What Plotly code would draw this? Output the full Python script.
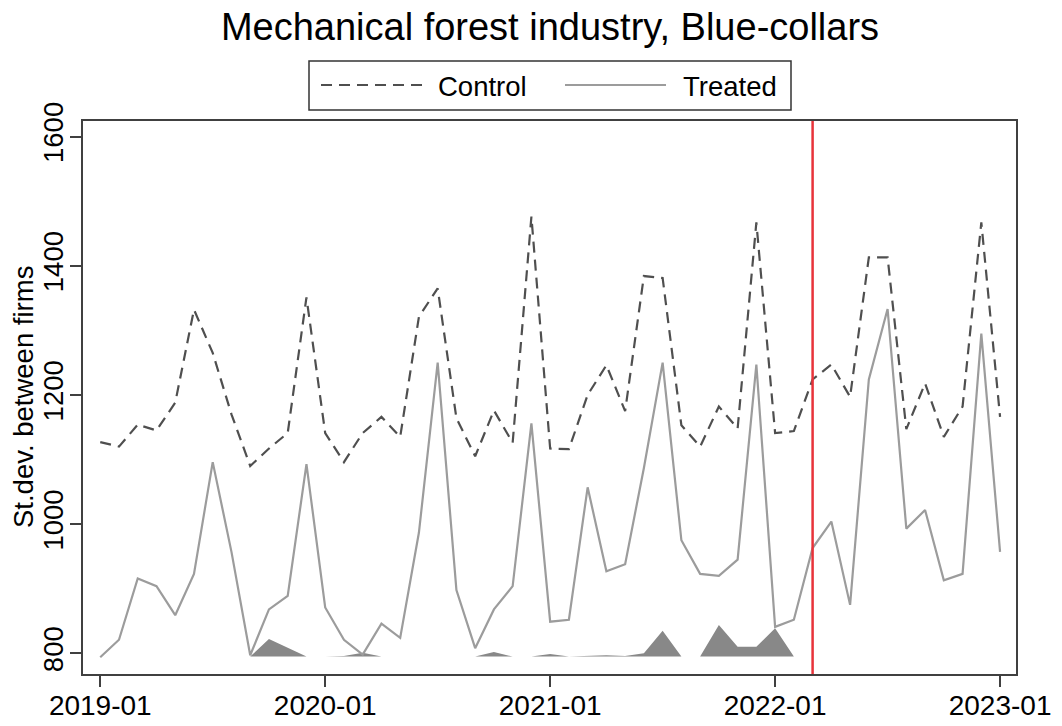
import plotly.graph_objects as go

# ---------------- data ----------------
months = [f"{y}-{m:02d}" for y in range(2019, 2023) for m in range(1, 13)] + ["2023-01"]

control = [1127, 1120, 1154, 1145, 1188, 1332, 1265, 1170, 1090, 1117, 1141, 1351,
           1141, 1096, 1141, 1166, 1135, 1321, 1365, 1164, 1105, 1176, 1126, 1476,
           1117, 1116, 1200, 1246, 1175, 1384, 1381, 1153, 1120, 1182, 1148, 1467,
           1141, 1144, 1224, 1247, 1197, 1413, 1413, 1147, 1218, 1135, 1182, 1467,
           1166]

treated = [794, 821, 916, 904, 859, 923, 1096, 957, 797, 868, 889, 1093,
           871, 821, 798, 846, 824, 987, 1250, 898, 808, 868, 904, 1156,
           849, 852, 1057, 927, 938, 1087, 1250, 975, 923, 920, 945, 1247,
           841, 852, 963, 1004, 875, 1224, 1333, 993, 1022, 913, 923, 1295,
           957]

shade_base = 795
shade = [None, None, None, None, None, None, None, None, 795, 822, 808, 795,
         795, 796, 801, 795, None, None, None, None, 795, 802, 795, 795,
         799, 795, 796, 797, 796, 800, 835, 795, 795, 844, 810, 810, 839,
         795, None, None, None, None, None, None, None, None, None, None, None]
shade = shade[:len(months)]

treatment_month = "2022-03"
tick_months = ["2019-01", "2020-01", "2021-01", "2022-01", "2023-01"]
y_ticks = [800, 1000, 1200, 1400, 1600]

# ---------------- layout geometry (page pixels) ----------------
W, H = 1062, 726
L = 83
T = 121
R = W - 1016
B = H - 674
pw, ph = W - L - R, H - T - B


def px2x(px):
    return (px - L) / pw


def py2y(py):
    return (H - B - py) / ph


xi = list(range(len(months)))
FONT = "Liberation Sans, Arial, sans-serif"
CTRL_COLOR = "#4f4f4f"
TRT_COLOR = "#9c9c9c"
DASH = "11px,7px"

fig = go.Figure()

fig.add_trace(go.Scatter(x=xi, y=[shade_base] * len(months), mode="lines",
                         line=dict(width=0, color="rgba(0,0,0,0)"),
                         showlegend=False, hoverinfo="skip"))
fig.add_trace(go.Scatter(x=xi, y=[v if v is not None else shade_base for v in shade],
                         mode="lines", fill="tonexty", fillcolor="#888888",
                         line=dict(width=0, color="#888888"),
                         showlegend=False, hoverinfo="skip"))
fig.add_trace(go.Scatter(x=xi, y=control, mode="lines", name="Control",
                         line=dict(color=CTRL_COLOR, width=2.2, dash=DASH),
                         showlegend=False))
fig.add_trace(go.Scatter(x=xi, y=treated, mode="lines", name="Treated",
                         line=dict(color=TRT_COLOR, width=2.2),
                         showlegend=False))

tr_idx = months.index(treatment_month)
fig.add_shape(type="line", xref="x", yref="paper", x0=tr_idx, x1=tr_idx, y0=0, y1=1,
              line=dict(color="#e8333a", width=2.5), layer="above")

# manual legend (long line samples like the original)
fig.add_shape(type="rect", xref="paper", yref="paper",
              x0=px2x(309), x1=px2x(791), y0=py2y(110), y1=py2y(61),
              line=dict(color="#333333", width=1.5), fillcolor="white")
fig.add_shape(type="line", xref="paper", yref="paper",
              x0=px2x(321), x1=px2x(422), y0=py2y(85), y1=py2y(85),
              line=dict(color=CTRL_COLOR, width=2.2, dash=DASH))
fig.add_shape(type="line", xref="paper", yref="paper",
              x0=px2x(565), x1=px2x(666), y0=py2y(85), y1=py2y(85),
              line=dict(color=TRT_COLOR, width=2.2))
fig.add_annotation(text="Control", xref="paper", yref="paper", x=px2x(436), y=py2y(86),
                   xanchor="left", yanchor="middle", showarrow=False,
                   font=dict(family=FONT, size=27.5, color="black"))
fig.add_annotation(text="Treated", xref="paper", yref="paper", x=px2x(681), y=py2y(86),
                   xanchor="left", yanchor="middle", showarrow=False,
                   font=dict(family=FONT, size=27.5, color="black"))

# y-axis title
fig.add_annotation(text="St.dev. between firms", xref="paper", yref="paper",
                   x=px2x(23), y=py2y(397), xanchor="center", yanchor="middle",
                   textangle=-90, showarrow=False,
                   font=dict(family=FONT, size=27.5, color="black"))

axis_common = dict(showline=True, linecolor="#404040", linewidth=2, mirror=True,
                   showgrid=False, zeroline=False, ticks="outside", ticklen=11,
                   tickwidth=2, tickcolor="#404040")

fig.update_layout(
    width=W, height=H,
    margin=dict(l=L, r=R, t=T, b=B, autoexpand=False),
    paper_bgcolor="white", plot_bgcolor="white",
    title=dict(text="Mechanical forest industry, Blue-collars",
               font=dict(family=FONT, size=38, color="black"),
               x=550 / W, xanchor="center", y=1 - 27 / H, yanchor="middle"),
    xaxis=dict(range=[-0.92, 48.85],
               tickvals=[months.index(m) for m in tick_months], ticktext=tick_months,
               ticklabelstandoff=-6,
               tickfont=dict(family=FONT, size=28, color="black"),
               **axis_common),
    yaxis=dict(range=[768, 1624], tickvals=y_ticks, tickangle=-90,
               ticklabelstandoff=-4,
               tickfont=dict(family=FONT, size=27.5, color="black"),
               **axis_common),
    showlegend=False,
    hovermode=False,
)

fig.write_html("out.html", config={"displayModeBar": False},
               post_script="document.body.style.margin='0';")
